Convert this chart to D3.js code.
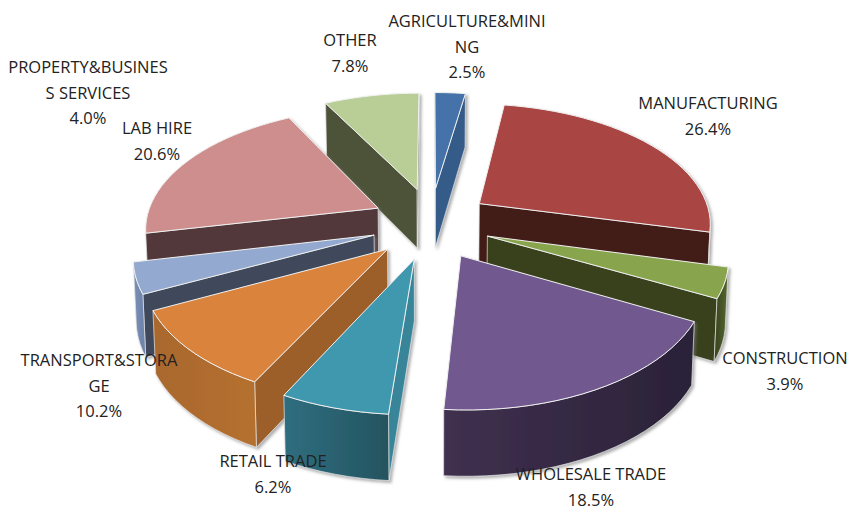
<!DOCTYPE html>
<html><head><meta charset="utf-8">
<script src="https://cdn.jsdelivr.net/npm/d3@7/dist/d3.min.js"></script>
<style>html,body{margin:0;background:#fff}svg{display:block}text{font-family:"Open Sans",sans-serif;font-size:16.5px;fill:#222}</style>
</head><body><svg id="c" width="849" height="510"></svg>
<script>
const categories=["AGRICULTURE&MINING","MANUFACTURING","CONSTRUCTION","WHOLESALE TRADE","RETAIL TRADE","TRANSPORT&STORAGE","PROPERTY&BUSINESS SERVICES","LAB HIRE","OTHER"];
const values=[2.5,26.4,3.9,18.5,6.2,10.2,4.0,20.6,7.8];
const valueLabels=["2.5%","26.4%","3.9%","18.5%","6.2%","10.2%","4.0%","20.6%","7.8%"];
const labelLines=[["AGRICULTURE&MINI","NG"],["MANUFACTURING"],["CONSTRUCTION"],["WHOLESALE TRADE"],["RETAIL TRADE"],["TRANSPORT&STORA","GE"],["PROPERTY&BUSINES","S SERVICES"],["LAB HIRE"],["OTHER"]];
const topColors=["#4472A8","#A94543","#88A44E","#71588F","#4198AF","#D9833C","#93A9CF","#CE8E8D","#B9CD96"];
const sideColors=["#355C89","#431A18","#37411F","#2E253F","#37859A","#9C5F2B","#3F4A5C","#52393A","#4D5239"];
const outerColorsLeft=["#355C89","#431A18","#37411F","#40304F","#2F6E80","#A9682E","#7A90B8","#52393A","#4D5239"];
const outerColorsRight=["#355C89","#431A18","#55692E","#2A2238","#24545F","#B5702F","#6A80A6","#52393A","#4D5239"];
const labelX=[467,708,785,591,273,99,88,157,350];
const labelY=[27,109,364,480,467,366,73,134,46];

const CX=431,CY=223,RX=233,RY=120,K=0.15,EXPLODE_X=0.255,EXPLODE_Y=0.3,DEPTH=60,SEG=3*Math.PI/180;
const sx=d3.scaleLinear().domain([-1,1]).range([CX-RX,CX+RX]);
const sy=d3.scaleLinear().domain([-1,1]).range([CY-RY,CY+RY]);
const project=(u,v,low)=>{
  const w=1/(1-K*v);
  return low
    ? [CX+(sx(u*w)-CX)*0.99, sy(v*w)+DEPTH+5*v]
    : [sx(u*w), sy(v*w)];
};
const arcs=d3.pie().sort(null).value(d=>d)(values);
const svg=d3.select("#c");
const defs=svg.append("defs");
const filter=defs.append("filter").attr("id","sh").attr("x","-10%").attr("y","-10%").attr("width","125%").attr("height","125%");
filter.append("feDropShadow").attr("dx",2).attr("dy",2).attr("stdDeviation",1.5).attr("flood-color","#777").attr("flood-opacity",0.6);
const line=d3.line();
const midOf=a=>(a.startAngle+a.endAngle)/2;
const EDGE="#e4e4e4";
const order=arcs.map((a,i)=>({a,i})).sort((p,q)=>Math.cos(midOf(q.a))-Math.cos(midOf(p.a)));
order.forEach(({a,i})=>{
  const mid=midOf(a);
  const ox=EXPLODE_X*Math.sin(mid),oy=-EXPLODE_Y*Math.cos(mid);
  const n=Math.max(2,Math.ceil((a.endAngle-a.startAngle)/SEG));
  const world=[[ox,oy]].concat(d3.range(n+1).map(j=>{
    const t=a.startAngle+(a.endAngle-a.startAngle)*j/n;
    return [ox+Math.sin(t),oy-Math.cos(t)];
  }));
  const top=world.map(p=>project(p[0],p[1],false));
  const low=world.map(p=>project(p[0],p[1],true));
  const g=svg.append("g").attr("filter","url(#sh)");
  const N=world.length;
  const visible=j=>{const k=(j+1)%N;return d3.polygonArea([top[j],top[k],low[k],low[j]])>0;};
  // radial cut faces
  [0,N-1].forEach(j=>{
    if(!visible(j)) return;
    const k=(j+1)%N;
    g.append("path").attr("d",line([top[j],top[k],low[k],low[j]])+"Z")
      .attr("fill",sideColors[i]).attr("stroke",EDGE).attr("stroke-width",0.7).attr("stroke-linejoin","round");
  });
  // rounded outer face as one polygon with a horizontal gradient
  const idx=d3.range(1,N-1).filter(visible);
  if(idx.length){
    const first=idx[0],last=idx[idx.length-1]+1;
    const tp=top.slice(first,last+1),lp=low.slice(first,last+1).reverse();
    const poly=tp.concat(lp);
    const gid="wall"+i;
    const gr=defs.append("linearGradient").attr("id",gid).attr("gradientUnits","userSpaceOnUse")
      .attr("x1",d3.min(poly,p=>p[0])).attr("x2",d3.max(poly,p=>p[0])).attr("y1",0).attr("y2",0);
    gr.append("stop").attr("offset",0).attr("stop-color",outerColorsLeft[i]);
    gr.append("stop").attr("offset",1).attr("stop-color",outerColorsRight[i]);
    g.append("path").attr("d",line(poly)+"Z").attr("fill",`url(#${gid})`)
      .attr("stroke",EDGE).attr("stroke-width",0.7).attr("stroke-linejoin","round");
  }
  g.append("path").attr("d",line(top)+"Z").attr("fill",topColors[i]).attr("stroke","#f0f0f0").attr("stroke-width",1).attr("stroke-linejoin","round");
});
categories.forEach((c,i)=>{
  const t=svg.append("text").attr("text-anchor","middle").attr("x",labelX[i]).attr("y",labelY[i]);
  labelLines[i].concat(valueLabels[i]).forEach((s,j)=>{
    t.append("tspan").attr("x",labelX[i]).attr("dy",j?25.5:0).text(s);
  });
  t.append("title").text(c);
});
</script></body></html>
